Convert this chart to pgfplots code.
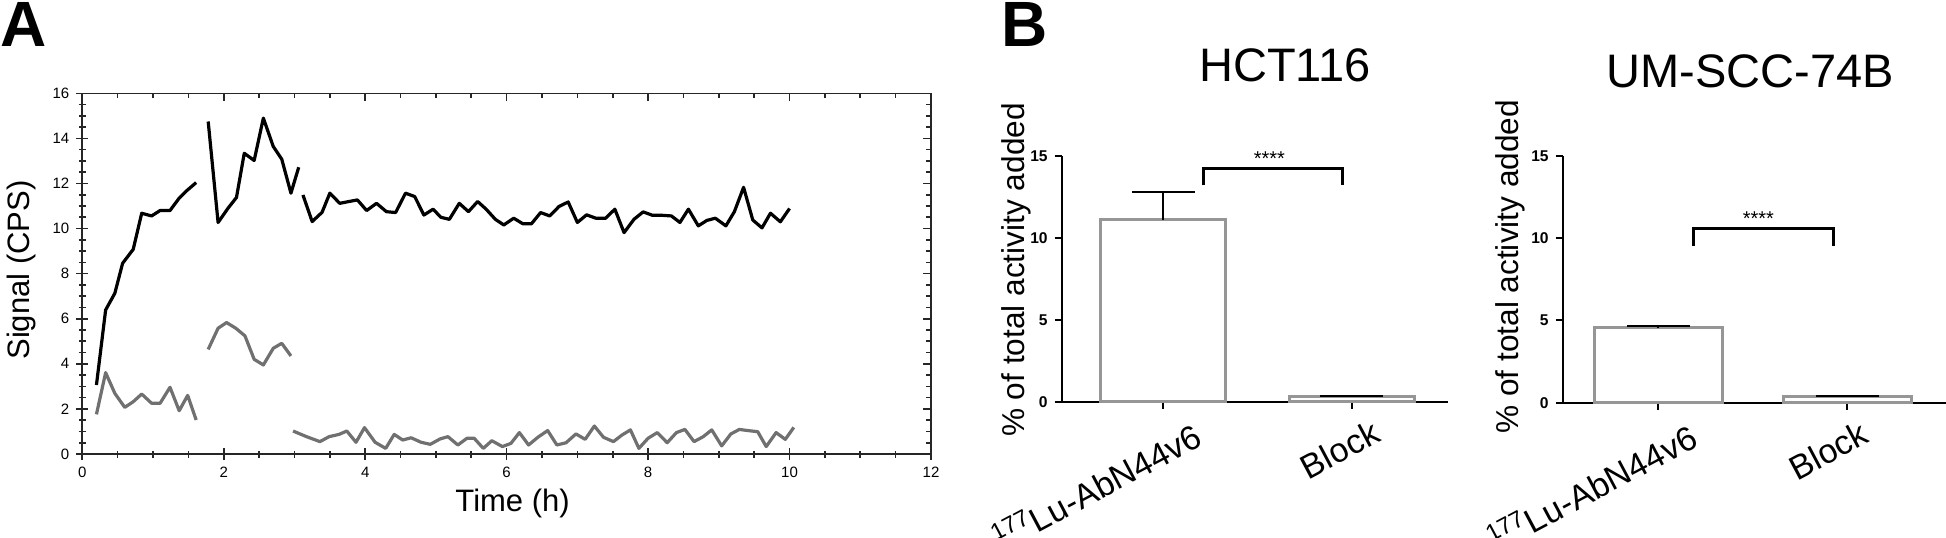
\documentclass[border=0pt]{standalone}
\usepackage{fontspec}
\setmainfont{Liberation Sans}
\usepackage{pgfplots}
\pgfplotsset{compat=1.18}
\definecolor{lineGray}{RGB}{112,112,112}
\definecolor{barGray}{RGB}{150,150,150}

\begin{document}
\begin{tikzpicture}
\path[use as bounding box] (0,0) rectangle (973pt,268.5pt);

% ---------------- panel A: signal over time
\begin{axis}[
    at={(41.15pt,41.5pt)}, anchor=south west, scale only axis,
    width=424.35pt, height=180.35pt,
    xmin=0, xmax=12, ymin=0, ymax=16,
    xtick={0,2,...,12}, ytick={0,2,...,16},
    minor x tick num=3, minor y tick num=3,
    xtick pos=left, ytick pos=left, tick align=center,
    major tick length=6pt, minor tick length=3.5pt,
    axis line style={line width=0.8pt, black!85},
    tick style={line width=0.8pt, black!85},
    tick label style={font=\fontsize{7.5}{9}\selectfont},
    /pgf/number format/assume math mode=true,
    xlabel={Time (h)}, ylabel={Signal (CPS)},
    label style={font=\fontsize{15.5}{18}\selectfont},
    xlabel style={at={(axis description cs:0.507,-0.16)}, anchor=base},
    ylabel style={at={(axis description cs:-0.072,0.51)}, anchor=center},
]
% antibody, first scan
\addplot[black, line width=1.6pt, line join=round] coordinates {
    (0.20,3.06)(0.33,6.39)(0.46,7.13)(0.57,8.46)(0.72,9.08)(0.84,10.68)
    (0.98,10.56)(1.10,10.80)(1.24,10.80)(1.37,11.35)(1.48,11.69)(1.61,12.04)
};
\addplot[lineGray, line width=1.6pt, line join=round] coordinates {
    (0.20,1.76)(0.33,3.61)(0.46,2.69)(0.60,2.07)(0.72,2.32)(0.84,2.66)
    (0.98,2.25)(1.10,2.25)(1.24,2.96)(1.37,1.92)(1.49,2.60)(1.61,1.51)
};
% second scan
\addplot[black, line width=1.6pt, line join=round] coordinates {
    (1.78,14.75)(1.92,10.27)(2.06,10.90)(2.18,11.38)(2.29,13.34)(2.43,13.02)
    (2.56,14.90)(2.70,13.64)(2.82,13.08)(2.95,11.57)(3.06,12.72)
};
\addplot[lineGray, line width=1.6pt, line join=round] coordinates {
    (1.78,4.64)(1.92,5.58)(2.04,5.83)(2.17,5.58)(2.30,5.24)(2.43,4.20)
    (2.56,3.95)(2.70,4.69)(2.82,4.91)(2.95,4.35)
};
% third scan
\addplot[black, line width=1.6pt, line join=round] coordinates {
    (3.12,11.49)(3.25,10.31)(3.39,10.72)(3.50,11.57)(3.64,11.12)(3.77,11.20)
    (3.89,11.27)(4.02,10.80)(4.16,11.12)(4.30,10.75)(4.43,10.71)(4.57,11.57)
    (4.70,11.42)(4.83,10.60)(4.96,10.86)(5.07,10.50)(5.19,10.41)(5.33,11.12)
    (5.46,10.75)(5.59,11.20)(5.71,10.86)(5.84,10.41)(5.96,10.16)(6.10,10.46)
    (6.23,10.21)(6.35,10.21)(6.48,10.71)(6.61,10.56)(6.74,10.98)(6.87,11.18)
    (7.00,10.27)(7.13,10.61)(7.26,10.46)(7.40,10.46)(7.53,10.86)(7.66,9.82)
    (7.80,10.41)(7.93,10.74)(8.06,10.59)(8.19,10.59)(8.33,10.56)(8.45,10.27)
    (8.57,10.86)(8.71,10.12)(8.83,10.36)(8.95,10.46)(9.10,10.12)(9.22,10.75)
    (9.35,11.83)(9.48,10.38)(9.61,10.03)(9.73,10.68)(9.87,10.30)(10.00,10.89)
};
\addplot[lineGray, line width=1.6pt, line join=round] coordinates {
    (2.98,1.02)(3.17,0.77)(3.36,0.55)(3.49,0.77)(3.63,0.87)(3.74,1.02)
    (3.87,0.52)(3.99,1.17)(4.14,0.52)(4.29,0.25)(4.41,0.87)(4.53,0.62)
    (4.65,0.72)(4.79,0.52)(4.92,0.43)(5.06,0.67)(5.17,0.77)(5.31,0.40)
    (5.44,0.70)(5.54,0.70)(5.67,0.25)(5.79,0.59)(5.94,0.33)(6.06,0.47)
    (6.18,0.95)(6.31,0.40)(6.44,0.74)(6.58,1.04)(6.71,0.40)(6.84,0.50)
    (6.98,0.89)(7.11,0.65)(7.24,1.24)(7.37,0.74)(7.51,0.55)(7.63,0.84)
    (7.75,1.07)(7.87,0.25)(8.00,0.70)(8.13,0.95)(8.27,0.50)(8.40,0.95)
    (8.52,1.09)(8.65,0.55)(8.78,0.77)(8.90,1.07)(9.04,0.36)(9.17,0.89)
    (9.29,1.09)(9.41,1.04)(9.55,0.99)(9.67,0.33)(9.81,0.95)(9.94,0.65)
    (10.06,1.18)
};
\end{axis}
% inward ticks on top and right of panel A
\begin{axis}[
    at={(41.15pt,41.5pt)}, anchor=south west, scale only axis,
    width=424.35pt, height=180.35pt,
    xmin=0, xmax=12, ymin=0, ymax=16,
    xtick={0,2,...,12}, ytick={0,2,...,16},
    minor x tick num=3, minor y tick num=3,
    xtick pos=right, ytick pos=right, tick align=inside,
    major tick length=4pt, minor tick length=2.5pt,
    axis line style={line width=0.8pt, black!85},
    tick style={line width=0.8pt, black!85},
    xticklabels={}, yticklabels={},
]
\end{axis}

% shared style of the two bar panels
\pgfplotsset{barpanel/.style={
    scale only axis, ymin=0, ymax=15,
    axis x line*=bottom, axis y line*=left,
    axis line style={line width=1pt, -},
    ybar, xtick={1,2}, xticklabels={}, ytick={0,5,10,15},
    tick align=outside, major tick length=3.5pt,
    tick style={line width=1pt, black},
    /pgf/number format/assume math mode=true,
    yticklabel style={font=\bfseries\fontsize{7.8}{9}\selectfont},
    ylabel={\% of total activity added},
    clip=false,
}}
\tikzset{catlabel/.style={rotate=28, anchor=north east, inner sep=0pt,
    font=\fontsize{17}{20}\selectfont}}

% ---------------- panel B: HCT116
\begin{axis}[
    barpanel,
    at={(530.85pt,67.65pt)}, anchor=south west,
    width=193.15pt, height=122.85pt,
    xmin=0.461, xmax=2.511, bar width=0.664,
    ylabel style={font=\fontsize{15.8}{18}\selectfont, at={(axis description cs:-0.1165,0.536)}, anchor=center},
]
\addplot[draw=barGray, fill=white, line width=1.5pt,
    error bars/.cd, y dir=plus, y explicit,
    error bar style={black, line width=1pt},
    error mark options={black, rotate=90, mark size=15.7pt, line width=1pt}]
    coordinates {(1,11.12) +- (0,1.67) (2,0.32) +- (0,0.02)};
\draw[line width=1.5pt] (axis cs:1.212,13.2) -- (axis cs:1.212,14.23) -- (axis cs:1.952,14.23) -- (axis cs:1.952,13.2);
\node[font=\fontsize{10}{12}\selectfont, anchor=base, inner sep=0pt] at (axis cs:1.563,14.4) {****};
\node[catlabel] at ([xshift=14pt,yshift=-8.5pt]axis cs:1,0) {\textsuperscript{177}Lu-AbN44v6};
\node[catlabel] at ([xshift=9.5pt,yshift=-8.5pt]axis cs:2,0) {Block};
\end{axis}

% ---------------- panel B: UM-SCC-74B
\begin{axis}[
    barpanel,
    at={(781.35pt,67.15pt)}, anchor=south west,
    width=191.65pt, height=123.35pt,
    xmin=0.494, xmax=2.522, bar width=0.674,
    ylabel style={font=\fontsize{15.8}{18}\selectfont, at={(axis description cs:-0.1375,0.551)}, anchor=center},
]
\addplot[draw=barGray, fill=white, line width=1.5pt,
    error bars/.cd, y dir=plus, y explicit,
    error bar style={black, line width=1pt},
    error mark options={black, rotate=90, mark size=15.7pt, line width=1pt}]
    coordinates {(1,4.57) +- (0,0.1) (2,0.38) +- (0,0.02)};
\draw[line width=1.5pt] (axis cs:1.185,9.54) -- (axis cs:1.185,10.6) -- (axis cs:1.926,10.6) -- (axis cs:1.926,9.54);
\node[font=\fontsize{10}{12}\selectfont, anchor=base, inner sep=0pt] at (axis cs:1.529,10.77) {****};
\node[catlabel] at ([xshift=14pt,yshift=-8.5pt]axis cs:1,0) {\textsuperscript{177}Lu-AbN44v6};
\node[catlabel] at ([xshift=6pt,yshift=-8.5pt]axis cs:2,0) {Block};
\end{axis}

% titles and panel letters
\node[anchor=base, font=\fontsize{23.5}{28}\selectfont] at (642.5pt,227.65pt) {HCT116};
\node[anchor=base, font=\fontsize{23.5}{28}\selectfont] at (875pt,224.85pt) {UM-SCC-74B};
\node[anchor=base west, inner sep=0pt, font=\bfseries\fontsize{32}{36}\selectfont] at (0pt,245pt) {A};
\node[anchor=base west, inner sep=0pt, font=\bfseries\fontsize{32}{36}\selectfont] at (500.5pt,245pt) {B};
\end{tikzpicture}
\end{document}
